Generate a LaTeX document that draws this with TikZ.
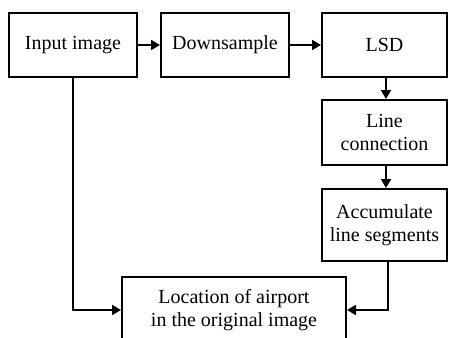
\documentclass[tikz,border=0pt]{standalone}
\usepackage{fontspec}
\setmainfont{Liberation Serif}
\usetikzlibrary{arrows.meta}
\begin{document}
\begin{tikzpicture}[x=1pt,y=-1pt,
  box/.style={draw=black,line width=2pt,fill=white,align=center,inner sep=0pt,
    font=\fontsize{20}{23}\selectfont},
  conn/.style={draw=black,line width=2pt,-{Triangle[length=9pt,width=10pt]}}]
\clip (0,0) rectangle (449,337);
\fill[white] (0,0) rectangle (449,337);
\node[box,minimum width=128pt,minimum height=64pt] (in) at (73,45) {Input image};
\node[box,minimum width=128pt,minimum height=64pt] (down) at (225,45) {Downsample};
\node[box,minimum width=125pt,minimum height=64pt] (lsd) at (384.5,45) {LSD};
\node[box,minimum width=125pt,minimum height=65pt] (line) at (384.5,132.5) {Line\\connection};
\node[box,minimum width=125pt,minimum height=72pt] (acc) at (384.5,225) {Accumulate\\line segments};
\node[box,minimum width=224pt,minimum height=66pt] (loc) at (234,310) {Location of airport\\in the original image};
\draw[conn] (in) -- (down);
\draw[conn] (down) -- (lsd);
\draw[conn] (lsd.south -| 386,0) -- (line.north -| 386,0);
\draw[conn] (line.south -| 386,0) -- (acc.north -| 386,0);
\draw[conn] (in.south) |- (loc.west);
\draw[conn] (acc.south -| 388,0) |- (loc.east);
\end{tikzpicture}
\end{document}
